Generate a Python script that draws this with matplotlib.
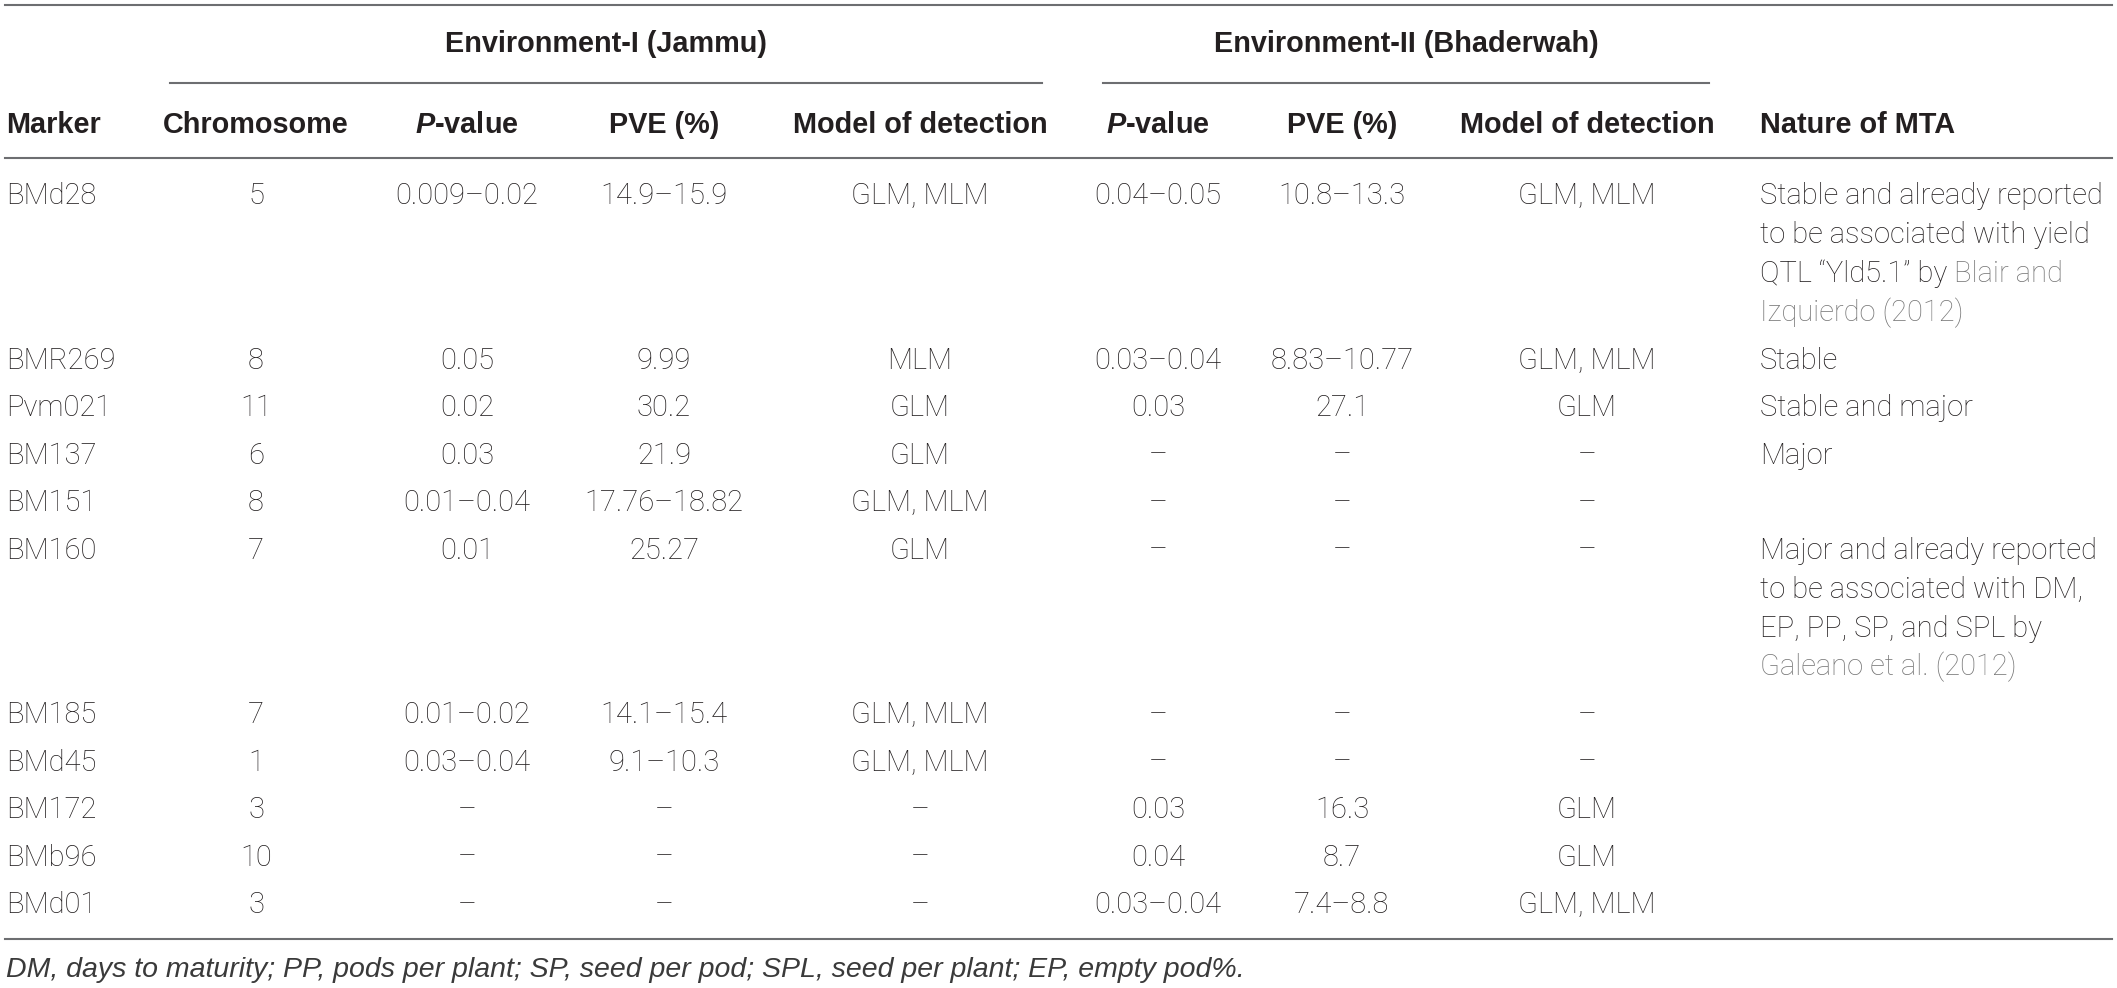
import matplotlib.pyplot as plt
from matplotlib import font_manager

# table data
markers = ["BMd28", "BMR269", "Pvm021", "BM137", "BM151", "BM160",
           "BM185", "BMd45", "BM172", "BMb96", "BMd01"]
chromosome = ["5", "8", "11", "6", "8", "7", "7", "1", "3", "10", "3"]
p_env1 = ["0.009–0.02", "0.05", "0.02", "0.03", "0.01–0.04", "0.01",
          "0.01–0.02", "0.03–0.04", "–", "–", "–"]
pve_env1 = ["14.9–15.9", "9.99", "30.2", "21.9", "17.76–18.82", "25.27",
            "14.1–15.4", "9.1–10.3", "–", "–", "–"]
model_env1 = ["GLM, MLM", "MLM", "GLM", "GLM", "GLM, MLM", "GLM",
              "GLM, MLM", "GLM, MLM", "–", "–", "–"]
p_env2 = ["0.04–0.05", "0.03–0.04", "0.03", "–", "–", "–",
          "–", "–", "0.03", "0.04", "0.03–0.04"]
pve_env2 = ["10.8–13.3", "8.83–10.77", "27.1", "–", "–", "–",
            "–", "–", "16.3", "8.7", "7.4–8.8"]
model_env2 = ["GLM, MLM", "GLM, MLM", "GLM", "–", "–", "–",
              "–", "–", "GLM", "GLM", "GLM, MLM"]
# nature of MTA: text lines, and the grey citation part of each line
nature_lines = [
    ["Stable and already reported", "to be associated with yield",
     "QTL “Yld5.1” by ", ""],
    ["Stable"], ["Stable and major"], ["Major"], [""],
    ["Major and already reported", "to be associated with DM,",
     "EP, PP, SP, and SPL by", ""],
    [""], [""], [""], [""], [""],
]
nature_cite = [
    ["", "", "Blair and", "Izquierdo (2012)"],
    [""], [""], [""], [""],
    ["", "", "", "Galeano et al. (2012)"],
    [""], [""], [""], [""], [""],
]
groups = ["Environment-I (Jammu)", "Environment-II (Bhaderwah)"]
headers = ["Marker", "Chromosome", "$\\it{P}$-value", "PVE (%)", "Model of detection",
           "$\\it{P}$-value", "PVE (%)", "Model of detection", "Nature of MTA"]
footnote = ("DM, days to maturity; PP, pods per plant; SP, seed per pod; "
            "SPL, seed per plant; EP, empty pod%.")

W, H = 2117, 988
TXT = "#231f20"
GREY = "#777777"
RULE = "#6d6e71"

names = {f.name for f in font_manager.fontManager.ttflist}
BODY = "Roboto" if "Roboto" in names else "Liberation Sans"
HEAD = "Liberation Sans"
FS = 21       # body
FS_HEAD = 20.8
FS_NOTE = 20.5

fig = plt.figure(figsize=(W / 100, H / 100), dpi=100)
ax = fig.add_axes([0, 0, 1, 1])
ax.set_xlim(0, W)
ax.set_ylim(H, 0)
ax.axis("off")

# column positions (x) and alignment
col_x = [6, 256, 467, 664, 920, 1158, 1342, 1587, 1760]
col_ha = ["left"] + ["center"] * 7 + ["left"]

# rules
lw = 1.5
ax.plot([5, 2112], [5, 5], color=RULE, lw=lw)
ax.plot([170, 1042], [83, 83], color=RULE, lw=lw)
ax.plot([1103, 1709], [83, 83], color=RULE, lw=lw)
ax.plot([5, 2112], [158, 158], color=RULE, lw=lw)
ax.plot([5, 2112], [939, 939], color=RULE, lw=lw)

# group headers
ax.text(606, 52, groups[0], ha="center", va="baseline", fontsize=FS_HEAD,
        fontweight="bold", family=HEAD, color=TXT)
ax.text(1406, 52, groups[1], ha="center", va="baseline", fontsize=FS_HEAD,
        fontweight="bold", family=HEAD, color=TXT)

plt.rcParams["mathtext.fontset"] = "custom"
plt.rcParams["mathtext.it"] = HEAD + ":italic:bold"
plt.rcParams["mathtext.rm"] = HEAD + ":bold"
for x, ha, h in zip(col_x, col_ha, headers):
    ax.text(x, 133, h, ha=ha, va="baseline", fontsize=FS_HEAD, fontweight="bold",
            family=HEAD, color=TXT)

# body rows
pitch, lead = 47.5, 39
y = 204
columns = [markers, chromosome, p_env1, pve_env1, model_env1,
           p_env2, pve_env2, model_env2]
for i in range(len(markers)):
    for c, col in enumerate(columns):
        ax.text(col_x[c], y, col[i], ha=col_ha[c], va="baseline", fontsize=FS,
                fontweight="light", family=BODY, color=TXT)
    lines = nature_lines[i]
    for k, (ln, cite) in enumerate(zip(lines, nature_cite[i])):
        yy = y + k * lead
        if ln:
            t = ax.text(col_x[8], yy, ln, ha="left", va="baseline", fontsize=FS,
                        fontweight="light", family=BODY, color=TXT)
            if cite:
                ax.annotate(cite, xy=(1, 0), xycoords=t, ha="left", va="bottom",
                            fontsize=FS, fontweight="light", family=BODY, color=GREY)
        elif cite:
            ax.text(col_x[8], yy, cite, ha="left", va="baseline", fontsize=FS,
                    fontweight="light", family=BODY, color=GREY)
    y += pitch + (len(lines) - 1) * lead

# footnote: wider italic face to match the original line length
ax.text(6, 977, footnote, ha="left", va="baseline", fontsize=FS_NOTE,
        style="italic", family=HEAD, color="#3a3a3a")

fig.savefig("out.png", dpi=100)
